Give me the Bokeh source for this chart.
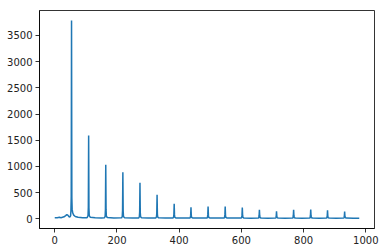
from bokeh.plotting import figure
from bokeh.models import Range1d, FixedTicker
from bokeh.embed import file_html
from bokeh.resources import INLINE

# Spectrum (index, magnitude)
x_vals = [0, 8, 15, 20, 25, 30, 35, 39, 42, 46, 49, 51, 52, 53, 54, 55, 56, 58, 61, 66, 75, 90,
          104, 107, 108, 109, 110, 111, 114, 130, 150,
          160, 162, 163, 164, 165, 166, 169, 190,
          215, 217, 218, 219, 220, 221, 224, 250,
          270, 272, 273, 274, 275, 276, 279, 300,
          325, 327, 328, 329, 330, 331, 334, 355,
          380, 382, 383, 384, 385, 386, 389, 410,
          435, 436, 437, 438, 439, 440, 443, 465,
          490, 491, 492, 493, 494, 495, 498, 520,
          545, 546, 547, 548, 549, 550, 553, 575,
          600, 601, 602, 603, 604, 605, 608, 630,
          655, 656, 657, 658, 659, 660, 663, 685,
          710, 711, 712, 713, 714, 715, 718, 740,
          765, 766, 767, 768, 769, 770, 773, 795,
          820, 821, 822, 823, 824, 825, 828, 850,
          874, 875, 876, 877, 878, 879, 882, 905,
          929, 930, 931, 932, 933, 934, 937, 960, 979]
y_vals = [18, 20, 28, 22, 30, 38, 60, 80, 70, 40, 35, 60, 150, 420, 3786, 400, 180, 110, 70, 45, 30, 22,
          20, 60, 220, 1590, 200, 60, 30, 18, 15,
          20, 50, 180, 1031, 170, 50, 25, 15,
          18, 45, 160, 890, 150, 45, 22, 15,
          16, 40, 130, 687, 120, 40, 20, 14,
          16, 35, 100, 458, 90, 35, 18, 15,
          16, 30, 80, 286, 75, 30, 17, 14,
          15, 30, 70, 221, 65, 28, 16, 14,
          15, 30, 75, 235, 70, 28, 16, 14,
          15, 30, 75, 235, 70, 28, 16, 14,
          15, 28, 70, 216, 65, 26, 16, 13,
          15, 26, 60, 172, 55, 25, 15, 13,
          14, 25, 50, 145, 48, 24, 15, 13,
          14, 26, 60, 172, 55, 25, 15, 13,
          14, 26, 60, 178, 55, 25, 15, 13,
          14, 26, 55, 164, 50, 24, 15, 13,
          14, 25, 48, 139, 45, 22, 14, 13, 12]

x_ticks = [0, 200, 400, 600, 800, 1000]
y_ticks = [0, 500, 1000, 1500, 2000, 2500, 3000, 3500]

p = figure(width=385, height=252, output_backend="svg", toolbar_location=None,
           x_range=Range1d(-49, 1028), y_range=Range1d(-185, 3977),
           min_border_left=39, min_border_right=11, min_border_top=10, min_border_bottom=24)

p.line(x_vals, y_vals, line_color="#1f77b4", line_width=1.5)

p.xgrid.visible = False
p.ygrid.visible = False
p.outline_line_color = "black"
p.outline_line_width = 0.8
p.outline_line_alpha = 1.0
p.background_fill_color = "white"
p.border_fill_color = "white"

for ax in (p.xaxis[0], p.yaxis[0]):
    ax.axis_line_color = "black"
    ax.axis_line_width = 0.8
    ax.major_tick_line_color = "black"
    ax.major_tick_line_width = 0.8
    ax.major_tick_in = 0
    ax.major_tick_out = 4
    ax.minor_tick_line_color = None
    ax.major_label_text_font = "DejaVu Sans"
    ax.major_label_text_font_size = "10px"
    ax.major_label_text_color = "#222222"
    ax.major_label_standoff = 3

p.xaxis[0].ticker = FixedTicker(ticks=x_ticks)
p.yaxis[0].ticker = FixedTicker(ticks=y_ticks)

open("out.html", "w").write(file_html(p, INLINE))
